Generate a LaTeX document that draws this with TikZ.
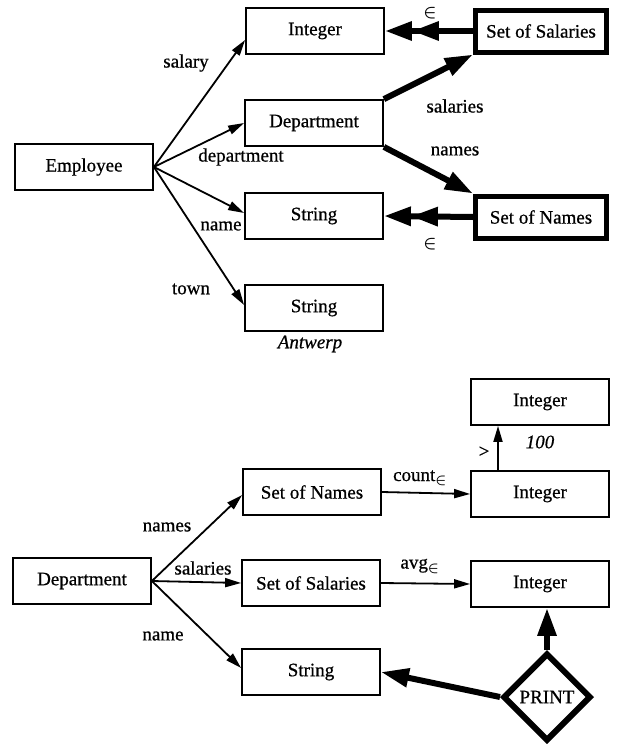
\documentclass[tikz,border=0pt]{standalone}
\usepackage{fontspec}
\setmainfont{Liberation Serif}[FakeBold=0.7]
\usetikzlibrary{arrows.meta,shapes.geometric,calc}
\newcommand{\belem}{{\boldmath$\in$}}
\begin{document}
\begin{tikzpicture}[x=1pt,y=-1pt,
 txt/.style={font=\fontsize{19}{21}\selectfont},
 box/.style={draw,line width=1.8pt,minimum width=138pt,minimum height=46pt,inner sep=0pt,txt},
 thickbox/.style={box,line width=5pt,minimum width=131pt,minimum height=42pt},
 lbl/.style={inner sep=0pt,txt},
 thin/.style={line width=1.8pt,-{Triangle[length=16pt,width=9pt]}},
 fat/.style={line width=6pt,-{Triangle[length=28pt,width=18pt]}},
 fatdouble/.style={line width=6pt,-{Triangle[length=27pt,width=18pt]Triangle[length=27pt,width=18pt]}},
]
\useasboundingbox (0,0) rectangle (622,744);
% ---------- top diagram ----------
\node[box] (emp) at (84,167) {Employee};
\node[box] (int1) at (315,31) {Integer};
\node[thickbox] (sos1) at (541,31) {Set of Salaries};
\node[box] (dep1) at (314,123) {Department};
\node[box] (str1) at (314,216) {String};
\node[thickbox] (son1) at (541,217) {Set of Names};
\node[box] (str2) at (314,308) {String};
\node[lbl,font=\fontsize{19}{21}\selectfont\itshape] (antw) at (310,344) {Antwerp};

\draw[thin] (emp.east) -- ($(int1.west)+(0,9)$);
\draw[thin] (emp.east) -- (dep1.west);
\draw[thin] (emp.east) -- ($(str1.west)+(0,-3)$);
\draw[thin] (emp.east) -- ($(str2.west)+(0,-3)$);
\node[lbl] (l-salary) at (186,63) {salary};
\node[lbl] (l-dept) at (241,157) {department};
\node[lbl] (l-name) at (221,226) {name};
\node[lbl] (l-town) at (191,289) {town};

\draw[fat] (dep1.north east) -- (sos1.south west);
\draw[fat] (dep1.south east) -- (son1.north west);
\node[lbl] (l-sal) at (455,106) {salaries};
\node[lbl] (l-nam) at (455,151) {names};
\draw[fatdouble] (sos1.west) -- (int1.east);
\draw[fatdouble] (son1.west) -- (str1.east);
\node[lbl] (l-in1) at (430,13) {\belem};
\node[lbl] (l-in2) at (430,244) {\belem};

% ---------- bottom diagram ----------
\node[box] (dep2) at (82,581) {Department};
\node[box] (son2) at (312,492) {Set of Names};
\node[box] (sos2) at (311,583) {Set of Salaries};
\node[box] (str3) at (311,672) {String};
\node[box] (inta) at (540,402) {Integer};
\node[box] (intb) at (540,494) {Integer};
\node[box] (intc) at (540,584) {Integer};
\node[draw,diamond,line width=6pt,inner sep=0pt,minimum width=88pt,minimum height=88pt,txt] (print) at (547,697) {PRINT};

\draw[thin] (dep2.east) -- ($(son2.west)+(0,3)$);
\draw[thin] (dep2.east) -- (sos2.west);
\draw[thin] (dep2.east) -- ($(str3.west)+(0,-4)$);
\node[lbl] (l-names2) at (167,527) {names};
\node[lbl] (l-sal2) at (203,568) {salaries};
\node[lbl] (l-name2) at (163,636) {name};

\draw[thin] (son2.east) -- (intb.west);
\draw[thin] (sos2.east) -- (intc.west);
\node[lbl] (l-count) at (420,478) {count\textsubscript{\belem}};
\node[lbl] (l-avg) at (420,566) {avg\textsubscript{\belem}};

\draw[thin] ($(intb.north)+(-42,0)$) -- ($(inta.south)+(-42,0)$);
\node[lbl] (l-gt) at (484,452) {>};
\node[lbl,font=\fontsize{19}{21}\selectfont\itshape] (l-100) at (540,442) {100};

\draw[fat] (print.north) -- (print.north |- intc.south);
\draw[fat] (print.west) -- (str3.east);
\end{tikzpicture}
\end{document}
